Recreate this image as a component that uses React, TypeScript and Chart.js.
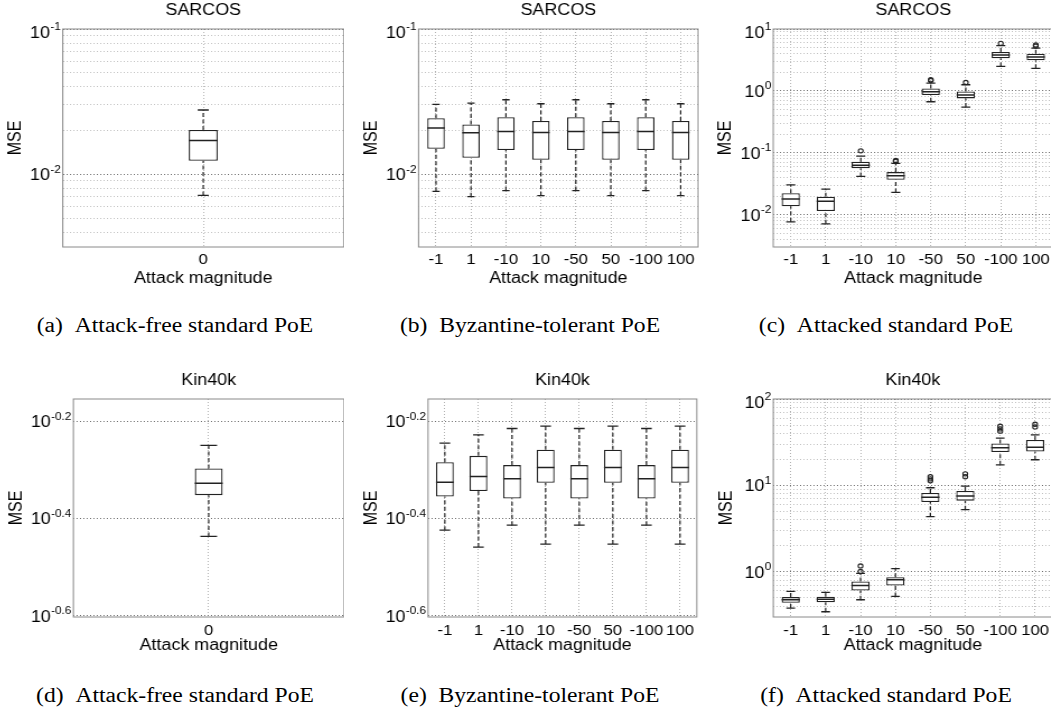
import React, { useEffect, useRef } from 'react';
import { Chart, registerables } from 'chart.js';

Chart.register(...registerables);

const FONT = '"Liberation Sans", Arial, Helvetica, sans-serif';
Chart.defaults.font.family = FONT;
Chart.defaults.color = '#000';

// ---------------- categories ----------------
const freeCategories = ['0'];
const attackCategories = ['-1', '1', '-10', '10', '-50', '50', '-100', '100'];

// ---------------- y tick labels (exponents of 10) ----------------
const sarcosFreeExps = [-2, -1];
const sarcosAttackExps = [-2, -1, 0, 1];
const kinFreeExps = [-0.6, -0.4, -0.2];
const kinAttackExps = [0, 1, 2];

// ---------------- (a) SARCOS attack-free ----------------
const aLo = [0.00716];
const aQ1 = [0.0124];
const aMed = [0.0171];
const aQ3 = [0.0202];
const aHi = [0.0277];
const aOut: number[][] = [[]];

// ---------------- (b) SARCOS Byzantine-tolerant ----------------
const bLo = [0.00764, 0.00701, 0.00773, 0.00713, 0.00773, 0.00713, 0.00773, 0.00713];
const bQ1 = [0.0150, 0.0130, 0.0147, 0.0126, 0.0147, 0.0126, 0.0147, 0.0126];
const bMed = [0.0208, 0.0193, 0.0197, 0.0194, 0.0197, 0.0194, 0.0197, 0.0194];
const bQ3 = [0.0243, 0.0220, 0.0247, 0.0233, 0.0247, 0.0233, 0.0247, 0.0233];
const bHi = [0.0303, 0.0309, 0.0326, 0.0306, 0.0326, 0.0306, 0.0326, 0.0306];
const bOut: number[][] = [[], [], [], [], [], [], [], []];

// ---------------- (c) SARCOS attacked ----------------
const cLo = [0.00773, 0.00716, 0.0417, 0.0230, 0.670, 0.550, 2.49, 2.32];
const cQ1 = [0.0138, 0.0115, 0.0568, 0.0368, 0.859, 0.759, 3.36, 3.12];
const cMed = [0.0180, 0.0166, 0.0635, 0.0428, 0.972, 0.859, 3.80, 3.53];
const cQ3 = [0.0224, 0.0196, 0.0719, 0.0490, 1.10, 0.984, 4.25, 4.00];
const cHi = [0.0306, 0.0260, 0.0887, 0.0676, 1.34, 1.26, 5.38, 4.93];
const cOut: number[][] = [[], [], [0.108], [0.0755, 0.073], [1.52, 1.47], [1.37], [5.86], [5.52, 5.3]];

// ---------------- (d) Kin40k attack-free ----------------
const dLo = [0.366];
const dQ1 = [0.445];
const dMed = [0.471];
const dQ3 = [0.505];
const dHi = [0.563];
const dOut: number[][] = [[]];

// ---------------- (e) Kin40k Byzantine-tolerant ----------------
const eLo = [0.377, 0.348, 0.386, 0.353, 0.386, 0.353, 0.386, 0.353];
const eQ1 = [0.442, 0.454, 0.438, 0.472, 0.438, 0.472, 0.438, 0.472];
const eMed = [0.473, 0.486, 0.481, 0.507, 0.481, 0.507, 0.481, 0.507];
const eQ3 = [0.520, 0.536, 0.513, 0.552, 0.513, 0.552, 0.513, 0.552];
const eHi = [0.569, 0.592, 0.610, 0.617, 0.610, 0.617, 0.610, 0.617];
const eOut: number[][] = [[], [], [], [], [], [], [], []];

// ---------------- (f) Kin40k attacked ----------------
const fLo = [0.381, 0.345, 0.475, 0.519, 4.35, 5.24, 17.3, 19.8];
const fQ1 = [0.439, 0.443, 0.609, 0.695, 6.43, 6.66, 24.4, 24.7];
const fMed = [0.475, 0.480, 0.695, 0.809, 7.27, 7.53, 27.2, 27.7];
const fQ3 = [0.510, 0.515, 0.773, 0.867, 8.16, 8.61, 30.5, 33.6];
const fHi = [0.593, 0.578, 0.957, 1.09, 9.40, 9.83, 35.2, 38.4];
const fOut: number[][] = [[], [], [1.17, 1.01], [], [12.6, 11.9, 11.3], [13.6, 12.6], [48.4, 45.1, 42.4], [51.0, 47.5]];

// ---------------- captions ----------------
const captionTexts = [
  '(a)\u00a0\u00a0Attack-free standard PoE',
  '(b)\u00a0\u00a0Byzantine-tolerant PoE',
  '(c)\u00a0\u00a0Attacked standard PoE',
  '(d)\u00a0\u00a0Attack-free standard PoE',
  '(e)\u00a0\u00a0Byzantine-tolerant PoE',
  '(f)\u00a0\u00a0Attacked standard PoE',
];

// ---------------- styling / layout ----------------
const S = 1.12; // horizontal stretch of the reference raster
const BOX = '#222222';
const FRAME = '#8a8a8a';
const GRID_MAJOR = '#6f6f6f';
const GRID_MINOR = '#c2c2c2';
const GRID_X = '#b4b4b4';

const ROWS = [
  { T: 29, B: 247, y0: 0, H: 288, Hx: 41, titleTop: 1.3, tickPad: 4 },
  { T: 399, B: 617, y0: 360, H: 295, Hx: 38, titleTop: 11.4, tickPad: 4.5 },
];

type PanelSpec = {
  title: string;
  cats: string[];
  lo: number[]; q1: number[]; med: number[]; q3: number[]; hi: number[]; out: number[][];
  exps: number[]; minor: boolean; yMin: number; yMax: number;
  L: number; R: number; mseX: number; row: number; boxFrac: number; capFrac: number;
};

const panels: PanelSpec[] = [
  { title: 'SARCOS', cats: freeCategories, lo: aLo, q1: aQ1, med: aMed, q3: aQ3, hi: aHi, out: aOut,
    exps: sarcosFreeExps, minor: true, yMin: 0.00316, yMax: 0.1, L: 63, R: 344, mseX: 16, row: 0, boxFrac: 0.103, capFrac: 0.38 },
  { title: 'SARCOS', cats: attackCategories, lo: bLo, q1: bQ1, med: bMed, q3: bQ3, hi: bHi, out: bOut,
    exps: sarcosFreeExps, minor: true, yMin: 0.00316, yMax: 0.1, L: 418.5, R: 699, mseX: 371.7, row: 0, boxFrac: 0.5, capFrac: 0.42 },
  { title: 'SARCOS', cats: attackCategories, lo: cLo, q1: cQ1, med: cMed, q3: cQ3, hi: cHi, out: cOut,
    exps: sarcosAttackExps, minor: true, yMin: 0.00303, yMax: 10, L: 773.5, R: 1054, mseX: 726, row: 0, boxFrac: 0.52, capFrac: 0.5 },
  { title: 'Kin40k', cats: freeCategories, lo: dLo, q1: dQ1, med: dMed, q3: dQ3, hi: dHi, out: dOut,
    exps: kinFreeExps, minor: false, yMin: Math.pow(10, -0.6), yMax: Math.pow(10, -0.154), L: 73.3, R: 344, mseX: 16.7, row: 1, boxFrac: 0.103, capFrac: 0.6 },
  { title: 'Kin40k', cats: attackCategories, lo: eLo, q1: eQ1, med: eMed, q3: eQ3, hi: eHi, out: eOut,
    exps: kinFreeExps, minor: false, yMin: Math.pow(10, -0.6), yMax: Math.pow(10, -0.154), L: 428.3, R: 699, mseX: 372, row: 1, boxFrac: 0.53, capFrac: 0.6 },
  { title: 'Kin40k', cats: attackCategories, lo: fLo, q1: fQ1, med: fMed, q3: fQ3, hi: fHi, out: fOut,
    exps: kinAttackExps, minor: true, yMin: 0.31, yMax: 100, L: 773.5, R: 1054, mseX: 727, row: 1, boxFrac: 0.52, capFrac: 0.48 },
];

const captionPos = [
  { cx: 175, top: 315 }, { cx: 530, top: 315 }, { cx: 886, top: 315 },
  { cx: 175, top: 685 }, { cx: 530, top: 685 }, { cx: 886, top: 685 },
];

function minorTicks(min: number, max: number): number[] {
  const out: number[] = [];
  for (let e = Math.floor(Math.log10(min)); e <= Math.ceil(Math.log10(max)); e++) {
    for (let k = 2; k <= 9; k++) {
      const v = k * Math.pow(10, e);
      if (v > min * 1.0001 && v < max * 0.9999) out.push(v);
    }
  }
  return out;
}

function PanelChart({ spec }: { spec: PanelSpec }) {
  const ref = useRef<HTMLCanvasElement>(null);
  const row = ROWS[spec.row];
  const x0 = spec.mseX - S * 9.6;
  const Wy = (spec.L - x0) / S;
  const plotW = (spec.R - spec.L) / S;
  const W = Math.ceil(Wy + plotW);
  const padR = W - Wy - plotW;
  const titleBottom = row.T - row.y0 - row.titleTop - 19.2;

  useEffect(() => {
    const canvas = ref.current;
    if (!canvas) return;
    const n = spec.cats.length;
    const majors = spec.exps.map((e) => Math.pow(10, e));
    const minors = spec.minor ? minorTicks(spec.yMin, spec.yMax) : [];
    const tickObjs = [
      ...minors.map((v) => ({ value: v, major: false })),
      ...majors.map((v) => ({ value: v, major: true })),
    ].sort((a, b) => a.value - b.value);

    const boxHalf = (ctx: any) => {
      const xs = ctx.chart.scales.x;
      return xs ? (xs.width / n) * spec.boxFrac / 2 : 0;
    };
    const capHalf = (ctx: any) => boxHalf(ctx) * spec.capFrac;

    const whiskerData: any[] = [];
    const capData: any[] = [];
    const medData: any[] = [];
    const outData: any[] = [];
    spec.cats.forEach((c, i) => {
      whiskerData.push(
        { x: c, y: spec.lo[i] }, { x: c, y: spec.q1[i] }, { x: c, y: null },
        { x: c, y: spec.q3[i] }, { x: c, y: spec.hi[i] }, { x: c, y: null },
      );
      capData.push({ x: c, y: spec.lo[i] }, { x: c, y: spec.hi[i] });
      medData.push({ x: c, y: spec.med[i] });
      spec.out[i].forEach((v) => outData.push({ x: c, y: v }));
    });

    const decoPlugin = {
      id: 'panelDeco',
      afterDraw(chart: any) {
        const { ctx, chartArea: a } = chart;
        const ys = chart.scales.y;
        ctx.save();
        ctx.strokeStyle = FRAME;
        ctx.lineWidth = 1;
        ctx.strokeRect(a.left, a.top, a.right - a.left, a.bottom - a.top);
        ctx.fillStyle = '#000';
        ctx.textAlign = 'right';
        ctx.textBaseline = 'alphabetic';
        const xr = a.left - 2 / S;
        spec.exps.forEach((e) => {
          const v = Math.pow(10, e);
          let yc = ys.getPixelForValue(v);
          yc = Math.max(yc, a.top + 3);
          const expText = String(e);
          ctx.font = `10.5px ${FONT}`;
          const ew = ctx.measureText(expText).width;
          ctx.fillText(expText, xr, yc - 1.6);
          ctx.font = `16px ${FONT}`;
          ctx.fillText('10', xr - ew - 0.3, yc + 5.7);
        });
        ctx.restore();
      },
    };

    const chart = new Chart(canvas, {
      type: 'bar',
      data: {
        labels: spec.cats,
        datasets: [
          {
            type: 'bar',
            data: spec.q1.map((q, i) => [q, spec.q3[i]]),
            backgroundColor: '#ffffff',
            borderColor: BOX,
            borderWidth: 1.3,
            borderSkipped: false,
            categoryPercentage: 1,
            barPercentage: spec.boxFrac,
            order: 3,
          } as any,
          {
            type: 'line',
            data: whiskerData,
            borderColor: BOX,
            borderWidth: 1.2,
            borderDash: [4, 2.5],
            pointRadius: 0,
            spanGaps: false,
            order: 4,
          } as any,
          {
            type: 'line',
            data: capData,
            showLine: false,
            pointStyle: 'line',
            pointRadius: capHalf,
            pointBorderColor: BOX,
            pointBorderWidth: 1.3,
            order: 1,
          } as any,
          {
            type: 'line',
            data: medData,
            showLine: false,
            pointStyle: 'line',
            pointRadius: boxHalf,
            pointBorderColor: BOX,
            pointBorderWidth: 1.5,
            order: 0,
          } as any,
          {
            type: 'line',
            data: outData,
            showLine: false,
            pointStyle: 'circle',
            pointRadius: 2.1,
            pointBackgroundColor: 'rgba(255,255,255,0)',
            pointBorderColor: BOX,
            pointBorderWidth: 1.1,
            order: 0,
          } as any,
        ],
      },
      options: {
        responsive: false,
        animation: false,
        events: [],
        layout: { autoPadding: false, padding: { left: 0, top: 0, bottom: 0, right: padR } },
        plugins: {
          legend: { display: false },
          tooltip: { enabled: false },
          title: {
            display: true,
            text: spec.title,
            fullSize: false,
            color: '#000',
            font: { size: 16, weight: 'normal', family: FONT, lineHeight: 1.2 },
            padding: { top: row.titleTop, bottom: titleBottom },
          },
        },
        scales: {
          x: {
            type: 'category',
            offset: true,
            afterFit: (s: any) => { s.height = row.Hx; },
            ticks: { autoSkip: false, maxRotation: 0, minRotation: 0, padding: row.tickPad, color: '#000', font: { size: 15 } },
            grid: { offset: false, color: GRID_X, lineWidth: 1, drawTicks: false },
            border: { display: false, dash: [1, 2] },
            title: { display: true, text: 'Attack magnitude', color: '#000', font: { size: 16, lineHeight: 1.2 }, padding: 0 },
          },
          y: {
            type: 'logarithmic',
            min: spec.yMin,
            max: spec.yMax,
            afterBuildTicks: (s: any) => { s.ticks = tickObjs.map((t) => ({ ...t })); },
            afterFit: (s: any) => { s.width = Wy; },
            ticks: { display: false },
            grid: {
              color: (c: any) => (c.tick && c.tick.major ? GRID_MAJOR : GRID_MINOR),
              lineWidth: 1,
              drawTicks: false,
            },
            border: { display: false, dash: [1, 2] },
            title: { display: true, text: 'MSE', color: '#000', font: { size: 16, lineHeight: 1.2 }, padding: 0 },
          },
        },
      } as any,
      plugins: [decoPlugin],
    });
    return () => chart.destroy();
  }, [spec]);

  return (
    <canvas
      ref={ref}
      width={W}
      height={row.H}
      style={{
        position: 'absolute',
        left: x0,
        top: row.y0,
        transform: `scaleX(${S})`,
        transformOrigin: '0 0',
      }}
    />
  );
}

export default function App() {
  return (
    <div
      style={{
        position: 'fixed',
        left: 0,
        top: 0,
        width: 1051,
        height: 712,
        overflow: 'hidden',
        background: '#fff',
      }}
    >
      {panels.map((p, i) => (
        <PanelChart key={i} spec={p} />
      ))}
      {captionTexts.map((t, i) => (
        <div
          key={'cap' + i}
          style={{
            position: 'absolute',
            left: captionPos[i].cx,
            top: captionPos[i].top,
            whiteSpace: 'nowrap',
            fontFamily: '"Liberation Serif", "Times New Roman", serif',
            fontSize: 20,
            lineHeight: '20px',
            color: '#000',
            transform: 'translateX(-50%) scaleX(1.18)',
          }}
        >
          {t}
        </div>
      ))}
    </div>
  );
}
